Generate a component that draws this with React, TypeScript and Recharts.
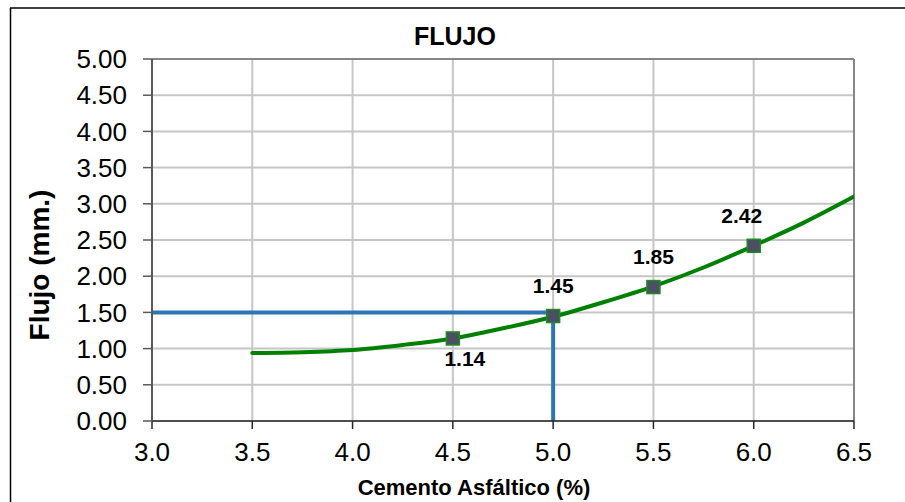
import React from "react";
import {
  ComposedChart,
  CartesianGrid,
  XAxis,
  YAxis,
  Line,
  Scatter,
  ReferenceLine,
} from "recharts";

// ensayos Marshall: flujo vs % de cemento asfáltico
const asphaltPct = [4.5, 5.0, 5.5, 6.0];
const flowMm = [1.14, 1.45, 1.85, 2.42];

// curva de tendencia, leída a lo largo del trazo
const trendPct = [3.5, 3.75, 4.0, 4.25, 4.5, 4.75, 5.0, 5.25, 5.5, 5.75, 6.0, 6.25, 6.5];
const trendFlow = [0.94, 0.95, 0.98, 1.05, 1.14, 1.28, 1.44, 1.64, 1.86, 2.12, 2.42, 2.74, 3.1];

// óptimo de diseño
const designPct = 5.0;
const designFlow = 1.5;

const xTicks = [3.0, 3.5, 4.0, 4.5, 5.0, 5.5, 6.0, 6.5];
const yTicks = [0, 0.5, 1.0, 1.5, 2.0, 2.5, 3.0, 3.5, 4.0, 4.5, 5.0];

const FONT = "Arial, 'Liberation Sans', sans-serif";
const W = 905;
const H = 502;

const points = asphaltPct.map((x, i) => ({ x, y: flowMm[i] }));
const trend = trendPct.map((x, i) => ({ x, y: trendFlow[i] }));
const designH = [
  { x: xTicks[0], y: designFlow },
  { x: designPct, y: designFlow },
];
const designV = [
  { x: designPct, y: yTicks[0] },
  { x: designPct, y: designFlow },
];

// first label sits under its marker, the last one is pushed left a bit
function SquareMarker(props: any) {
  const { cx, cy, index, payload } = props;
  const s = 13;
  const below = index === 0;
  const dx = index === 0 ? 12 : index === asphaltPct.length - 1 ? -12 : 0;
  return (
    <g>
      <rect
        x={cx - s / 2}
        y={cy - s / 2}
        width={s}
        height={s}
        fill="#4b4f63"
        stroke="#1f8a1f"
        strokeWidth={1.5}
      />
      <text
        x={cx + dx}
        y={below ? cy + 28 : cy - 23}
        textAnchor="middle"
        fontFamily={FONT}
        fontWeight="bold"
        fontSize={21}
        fill="#000"
      >
        {Number(payload.y).toFixed(2)}
      </text>
    </g>
  );
}

export default function App() {
  return (
    <div
      style={{
        position: "fixed",
        left: 0,
        top: 0,
        width: W,
        height: H,
        overflow: "hidden",
        background: "#fff",
      }}
    >
      <ComposedChart
        width={W}
        height={H}
        margin={{ top: 59, right: 51, bottom: 0, left: 0 }}
      >
        <CartesianGrid stroke="#c6c6c6" strokeWidth={2} />
        <XAxis
          type="number"
          dataKey="x"
          domain={[3, 6.5]}
          ticks={xTicks}
          allowDataOverflow
          height={81}
          tickFormatter={(v) => Number(v).toFixed(1)}
          tick={{ fontSize: 26, fill: "#000", fontFamily: FONT }}
          tickSize={8}
          tickMargin={14}
          axisLine={{ stroke: "#262626", strokeWidth: 1.5 }}
          tickLine={{ stroke: "#262626", strokeWidth: 1.5 }}
        />
        <YAxis
          type="number"
          dataKey="y"
          domain={[0, 5]}
          ticks={yTicks}
          allowDataOverflow
          width={152}
          tickFormatter={(v) => Number(v).toFixed(2)}
          tick={{ fontSize: 26, fill: "#000", fontFamily: FONT }}
          tickSize={9}
          tickMargin={16}
          axisLine={{ stroke: "#595959", strokeWidth: 2 }}
          tickLine={{ stroke: "#595959", strokeWidth: 1.5 }}
        />
        <ReferenceLine y={5} stroke="#868686" strokeWidth={2} />
        <ReferenceLine x={6.5} stroke="#868686" strokeWidth={2} />
        <Line
          data={designH}
          dataKey="y"
          type="linear"
          stroke="#2e75b6"
          strokeWidth={4}
          dot={false}
          activeDot={false}
          isAnimationActive={false}
        />
        <Line
          data={designV}
          dataKey="y"
          type="linear"
          stroke="#2e75b6"
          strokeWidth={4}
          dot={false}
          activeDot={false}
          isAnimationActive={false}
        />
        <Line
          data={trend}
          dataKey="y"
          type="monotone"
          stroke="#008000"
          strokeWidth={4}
          strokeLinecap="round"
          dot={false}
          activeDot={false}
          isAnimationActive={false}
        />
        <Scatter
          data={points}
          dataKey="y"
          shape={<SquareMarker />}
          isAnimationActive={false}
        />
      </ComposedChart>
      <svg
        width={W}
        height={H}
        style={{ position: "absolute", left: 0, top: 0, pointerEvents: "none" }}
      >
        <line x1={10.5} y1={8} x2={10.5} y2={H} stroke="#000" strokeWidth={1.5} />
        <line x1={10} y1={8} x2={W} y2={8} stroke="#000" strokeWidth={1.5} />
        <text
          x={455}
          y={45}
          textAnchor="middle"
          fontFamily={FONT}
          fontWeight="bold"
          fontSize={25}
          fill="#000"
        >
          FLUJO
        </text>
        <text
          x={49}
          y={265}
          transform="rotate(-90 49 265)"
          textAnchor="middle"
          fontFamily={FONT}
          fontWeight="bold"
          fontSize={28}
          fill="#000"
        >
          Flujo (mm.)
        </text>
        <text
          x={474}
          y={495}
          textAnchor="middle"
          fontFamily={FONT}
          fontWeight="bold"
          fontSize={22}
          fill="#000"
        >
          Cemento Asfáltico (%)
        </text>
      </svg>
    </div>
  );
}
